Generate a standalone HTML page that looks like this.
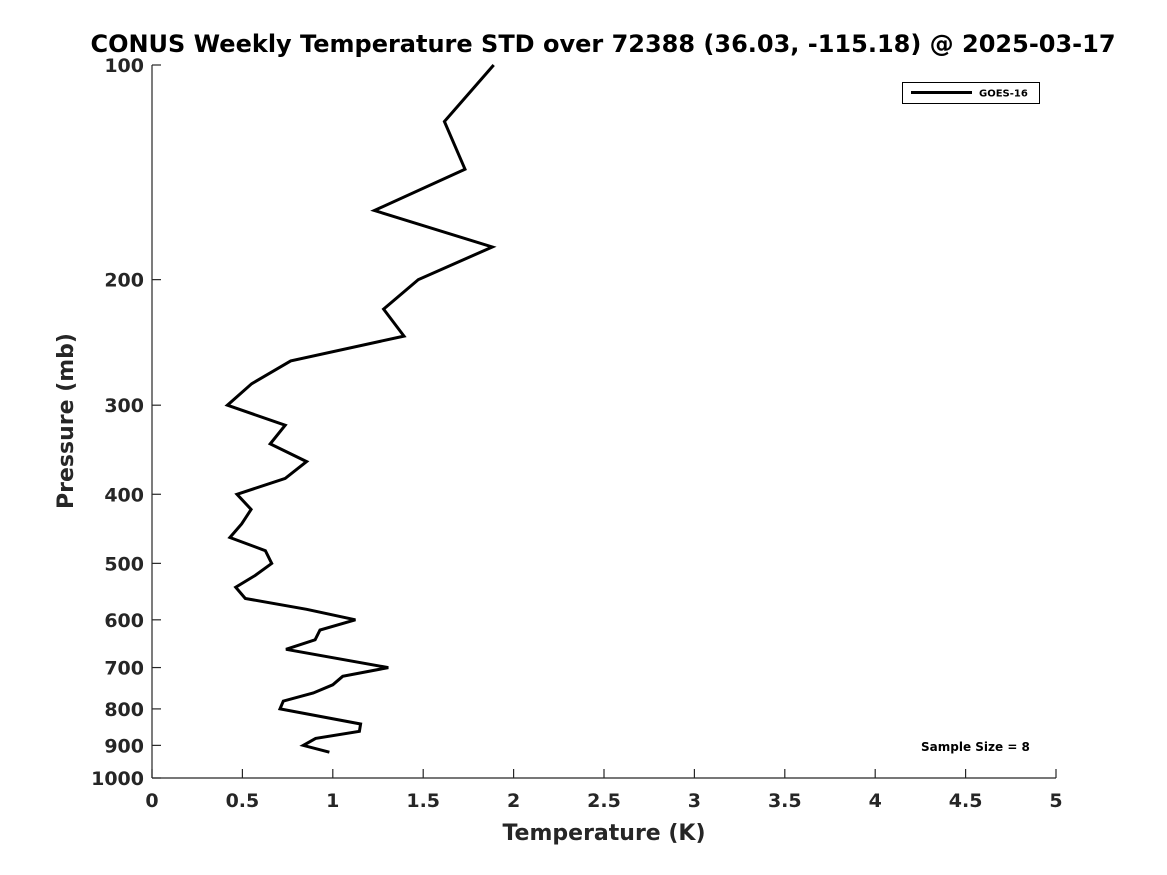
<!DOCTYPE html>
<html><head><meta charset="utf-8"><style>
html,body{margin:0;padding:0;background:#fff;}
svg{display:block;font-family:"DejaVu Sans","Liberation Sans",sans-serif;font-weight:bold;}
</style></head><body>
<svg id="chart" width="1167" height="875" viewBox="0 0 1167 875" xmlns="http://www.w3.org/2000/svg">
<rect width="1167" height="875" fill="#fff"/>
<text x="603" y="52" text-anchor="middle" font-size="24" fill="#000">CONUS Weekly Temperature STD over 72388 (36.03, -115.18) @ 2025-03-17</text>
<g id="axes"></g>
<polyline id="series" fill="none" stroke="#000" stroke-width="3" stroke-linejoin="miter"/>
<g>
<rect x="902.5" y="82.5" width="137" height="21" fill="#fff" stroke="#000" stroke-width="1"/>
<line x1="911" y1="92.5" x2="972" y2="92.5" stroke="#000" stroke-width="3"/>
<text x="979" y="96.5" font-size="10" fill="#000">GOES-16</text>
</g>
<text x="921" y="751" font-size="12" fill="#000">Sample Size = 8</text>
<text x="604" y="840" text-anchor="middle" font-size="22" fill="#262626">Temperature (K)</text>
<text transform="translate(73,421) rotate(-90)" text-anchor="middle" font-size="22" fill="#262626">Pressure (mb)</text>
</svg>
<script>
const temps = [1.89,1.617,1.731,1.23,1.882,1.473,1.281,1.394,0.767,0.551,0.417,0.737,0.654,0.855,0.737,0.470,0.548,0.496,0.431,0.627,0.662,0.570,0.463,0.516,0.855,1.125,0.929,0.902,0.741,1.307,1.055,1.0,0.892,0.726,0.708,1.154,1.147,0.905,0.837,0.981];
const pressures = [100,120,140,160,180,200,220,240,260,280,300,320,340,360,380,400,420,440,460,480,500,520,540,560,580,600,620,640,660,700,720,740,760,780,800,840,860,880,900,920];
const xTicks = [0,0.5,1,1.5,2,2.5,3,3.5,4,4.5,5];
const xTickLabels = ["0","0.5","1","1.5","2","2.5","3","3.5","4","4.5","5"];
const yTicks = [100,200,300,400,500,600,700,800,900,1000];
const yTickLabels = ["100","200","300","400","500","600","700","800","900","1000"];

const X0=152, X1=1056, Y0=65, Y1=778;
function xs(v){return X0+(v-0)/(5-0)*(X1-X0);}
function ys(p){return Y0+(Math.log10(p)-2)/(3-2)*(Y1-Y0);}
const NS="http://www.w3.org/2000/svg";
const axes=document.getElementById('axes');
function mk(tag,attrs){const e=document.createElementNS(NS,tag);for(const k in attrs)e.setAttribute(k,attrs[k]);return e;}
const yl=mk('line',{x1:X0,y1:Y0,x2:X0,y2:Y1,stroke:'#262626','stroke-width':1.2});


axes.appendChild(yl);
const xl=mk('line',{x1:X0,y1:Y1,x2:X1,y2:Y1,stroke:'#262626','stroke-width':1.2});


axes.appendChild(xl);
xTicks.forEach((v,i)=>{
  const x=xs(v);
  const t=mk('line',{x1:x,y1:Y1,x2:x,y2:Y1-9,stroke:'#262626','stroke-width':1.2});
  
  
  axes.appendChild(t);
  const l=mk('text',{x:x,y:Y1+29,'text-anchor':'middle','font-size':19,fill:'#262626'});
  l.textContent=xTickLabels[i];
  
  
  axes.appendChild(l);
});
yTicks.forEach((v,i)=>{
  const y=ys(v);
  const t=mk('line',{x1:X0,y1:y,x2:X0+9,y2:y,stroke:'#262626','stroke-width':1.2});
  
  
  axes.appendChild(t);
  const l=mk('text',{x:X0-8,y:y+7,'text-anchor':'end','font-size':19,fill:'#262626'});
  l.textContent=yTickLabels[i];
  
  
  axes.appendChild(l);
});
document.getElementById('series').setAttribute('points',temps.map((t,i)=>xs(t).toFixed(1)+','+ys(pressures[i]).toFixed(1)).join(' '));
</script>
</body></html>
